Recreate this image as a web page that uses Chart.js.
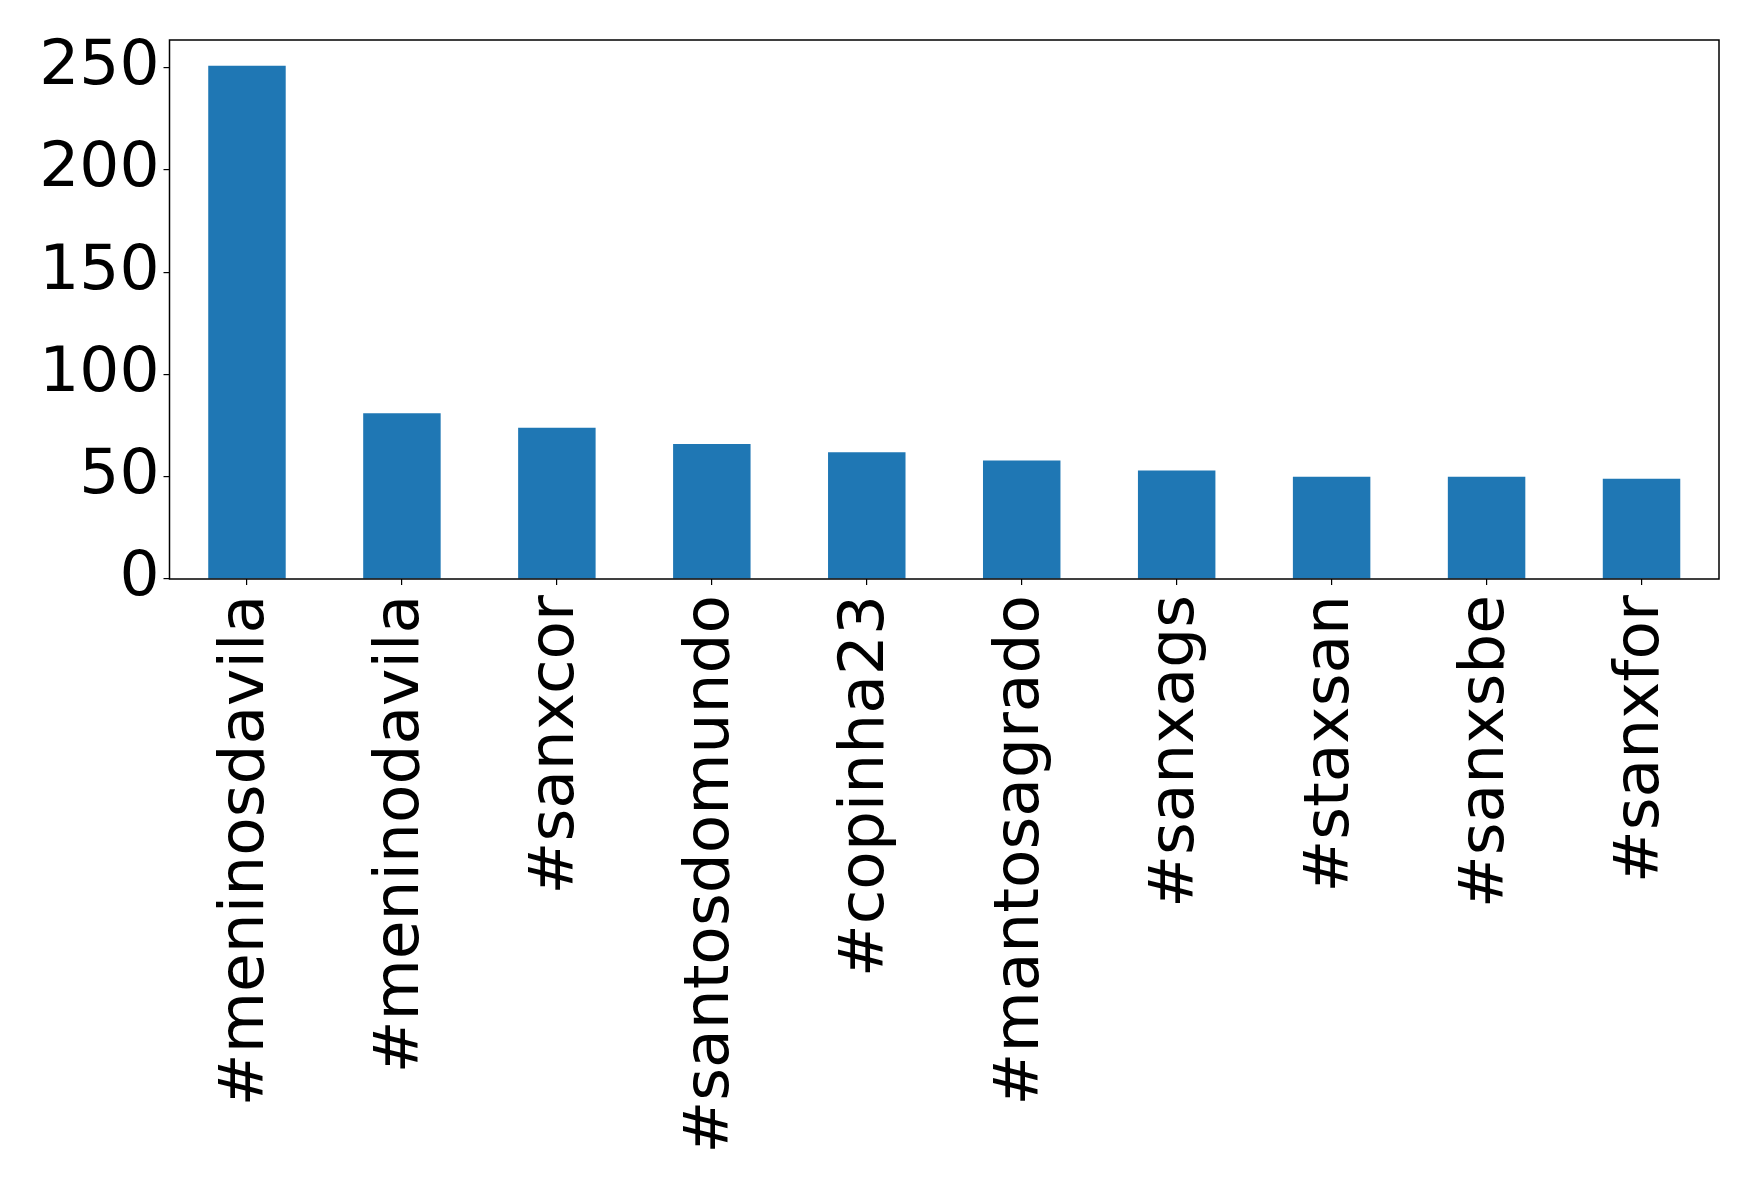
<!DOCTYPE html>
<html>
<head>
<meta charset="utf-8">
<script src="https://cdn.jsdelivr.net/npm/chart.js@4/dist/chart.umd.min.js"></script>
<style>
  html, body { margin: 0; padding: 0; background: #fff; }
  #wrap { width: 1758px; height: 1182px; }
</style>
</head>
<body>
<div id="wrap"><canvas id="chart" width="1758" height="1182"></canvas></div>
<script>
// hashtag counts
const hashtags = ['#meninosdavila', '#meninodavila', '#sanxcor', '#santosdomundo', '#copinha23',
                  '#mantosagrado', '#sanxags', '#staxsan', '#sanxsbe', '#sanxfor'];
const counts = [251, 81, 74, 66, 62, 58, 53, 50, 50, 49];
const yTicks = [0, 50, 100, 150, 200, 250];

const FONT = 'DejaVu Sans';

// box around the plot area, like matplotlib spines
const frame = {
    id: 'frame',
    afterDraw(chart) {
        const a = chart.chartArea, ctx = chart.ctx;
        ctx.save();
        ctx.strokeStyle = '#000';
        ctx.lineWidth = 1.5;
        ctx.strokeRect(a.left, a.top, a.right - a.left, a.bottom - a.top);
        ctx.restore();
    }
};

new Chart(document.getElementById('chart'), {
    type: 'bar',
    data: {
        labels: hashtags,
        datasets: [{
            data: counts,
            backgroundColor: '#1f77b4',
            borderWidth: 0,
            barPercentage: 0.5,
            categoryPercentage: 1.0
        }]
    },
    options: {
        responsive: false,
        animation: false,
        devicePixelRatio: 1,
        layout: { padding: { top: 40, right: 39, bottom: 0, left: 0 } },
        plugins: { legend: { display: false }, tooltip: { enabled: false } },
        scales: {
            x: {
                afterFit: s => { s.height = 1182 - 579; s.paddingLeft = 0; s.paddingRight = 0; },
                grid: { display: true, offset: false, drawOnChartArea: false, drawTicks: true, tickLength: 6, color: '#000', lineWidth: 1.2 },
                border: { display: false },
                ticks: {
                    color: '#000', font: { family: FONT, size: 63 },
                    minRotation: 90, maxRotation: 90, padding: 10, autoSkip: false
                }
            },
            y: {
                min: 0,
                max: 251 * 1.05,
                afterFit: s => { s.width = 169.5; s.paddingTop = 0; s.paddingBottom = 0; },
                afterBuildTicks: s => { s.ticks = yTicks.map(v => ({ value: v })); },
                grid: { display: true, drawOnChartArea: false, drawTicks: true, tickLength: 6, color: '#000', lineWidth: 1.2 },
                border: { display: false },
                ticks: { color: '#000', font: { family: FONT, size: 63 }, padding: 4 }
            }
        }
    },
    plugins: [frame]
});
</script>
</body>
</html>
